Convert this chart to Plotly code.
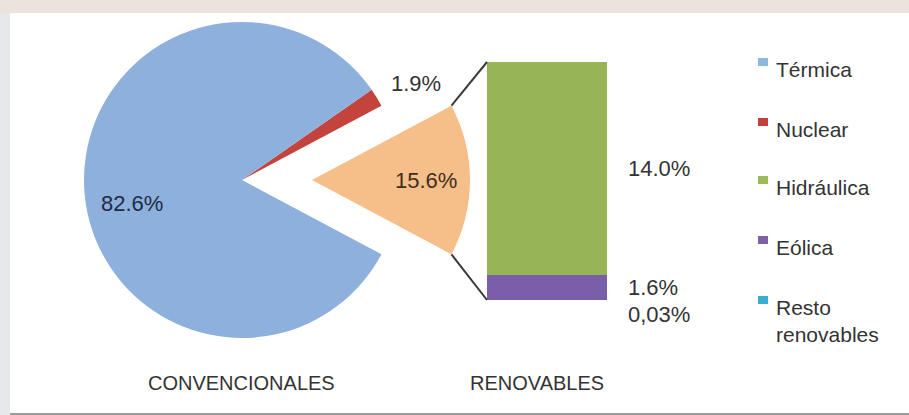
import math
import plotly.graph_objects as go

W, H = 909, 415

# ---------------- data ----------------
conv_labels = ["Renovables", "Nuclear", "Térmica"]
conv_values = [15.6, 1.9, 82.6]
conv_text = ["15.6%", "1.9%", "82.6%"]

renov_labels = ["Resto renovables", "Eólica", "Hidráulica"]
renov_values = [0.03, 1.6, 14.0]
renov_text = ["0,03%", "1.6%", "14.0%"]

legend_labels = ["Térmica", "Nuclear", "Hidráulica", "Eólica", "Resto<br>renovables"]
group_labels = ["CONVENCIONALES", "RENOVABLES"]

# ---------------- style ----------------
C_TERM = "#8db0dc"
C_NUC = "#c4443d"
C_REN = "#f6be88"
C_HID = "#97b556"
C_EOL = "#7b5ea9"
C_RES = "#36abcd"
legend_colors = ["#8fb8e0", "#c4403d", "#9dbb5a", "#7d60a8", "#3aaed0"]
TXT = "#333333"
FONT = "Liberation Sans, Arial, sans-serif"

cx, cy, R = 242, 180, 158       # pie centre / radius (px)
explode = 70                     # offset of the renewable slice (px)
bar_x0, bar_x1 = 487, 607        # bar horizontal extent (px)
bar_top, bar_bot = 62, 300       # bar vertical extent (px)


def px(x):
    return x / W


def py(y):
    return 1 - y / H


total = sum(conv_values)
half_ren = conv_values[0] / total * 360 / 2
# plotly: counterclockwise pies put the first slice between rotation and rotation+span (clockwise from 12 o'clock)
rotation = 90 - half_ren

fig = go.Figure()

dom = dict(x=[px(cx - R), px(cx + R)], y=[py(cy + R), py(cy - R)])
dom2 = dict(x=[px(cx + explode - R), px(cx + explode + R)], y=[py(cy + R), py(cy - R)])

fig.add_trace(go.Pie(
    labels=conv_labels, values=conv_values, sort=False, direction="counterclockwise",
    rotation=rotation, domain=dom, textinfo="none", hoverinfo="skip",
    marker=dict(colors=["rgba(0,0,0,0)", C_NUC, C_TERM], line=dict(width=0)),
    showlegend=False,
))
fig.add_trace(go.Pie(
    labels=conv_labels, values=conv_values, sort=False, direction="counterclockwise",
    rotation=rotation, domain=dom2, textinfo="none", hoverinfo="skip",
    marker=dict(colors=[C_REN, "rgba(0,0,0,0)", "rgba(0,0,0,0)"], line=dict(width=0)),
    showlegend=False,
))

bar_colors = [C_RES, C_EOL, C_HID]
for lab, val, col in zip(renov_labels, renov_values, bar_colors):
    fig.add_trace(go.Bar(
        x=[0], y=[val], name=lab, width=1, marker=dict(color=col, line=dict(width=0)),
        showlegend=False, hoverinfo="skip",
    ))

rtotal = sum(renov_values)

annotations = []
shapes = []

# background panel
shapes.append(dict(type="rect", xref="paper", yref="paper", x0=px(10), x1=1, y0=py(413), y1=py(13),
                   fillcolor="white", line=dict(width=0), layer="below"))
shapes.append(dict(type="rect", xref="paper", yref="paper", x0=0, x1=px(10), y0=0, y1=py(13),
                   fillcolor="#e6e8ec", line=dict(width=0), layer="below"))
shapes.append(dict(type="rect", xref="paper", yref="paper", x0=px(10), x1=1, y0=0, y1=py(413),
                   fillcolor="#9a9a9a", line=dict(width=0), layer="below"))


# pie labels (positions from slice geometry)
def polar(cxx, ang_deg, rr):
    a = math.radians(ang_deg)
    return cxx + rr * math.cos(a), cy - rr * math.sin(a)


start = -half_ren
angles = []
for v in conv_values:
    span = v / total * 360
    angles.append(start + span / 2)
    start += span

pos = [polar(cx + explode, angles[0], 0.72 * R),
       polar(cx, angles[1] - 2.5, 1.26 * R),
       polar(cx, angles[2] + 8.5, 0.71 * R)]
txt_colors = ["#3d2f22", TXT, "#1f2b45"]
for t, (x, y), c in zip(conv_text, pos, txt_colors):
    annotations.append(dict(x=px(x), y=py(y), xref="paper", yref="paper", text=t, showarrow=False,
                            font=dict(size=22, color=c, family=FONT), xanchor="center", yanchor="middle"))

# bar labels
cum = 0
for i, (t, v) in enumerate(zip(renov_text, renov_values)):
    mid = cum + v / 2
    cum += v
    ysh = -14 if i == 0 else 0
    annotations.append(dict(x=0.5, y=(0 if i == 0 else mid), xref="x", yref="y", text=t, showarrow=False,
                            xanchor="left", yanchor="middle", xshift=19, yshift=ysh,
                            font=dict(size=22, color=TXT, family=FONT)))

# connector lines
c_top = polar(cx + explode, half_ren, R)
c_bot = polar(cx + explode, -half_ren, R)
for (x0, y0), (x1, y1) in [(c_top, (bar_x0, bar_top)), (c_bot, (bar_x0, bar_bot))]:
    shapes.append(dict(type="line", xref="paper", yref="paper", x0=px(x0), y0=py(y0), x1=px(x1), y1=py(y1),
                       line=dict(color="#3a3a3a", width=2)))

# legend
leg_y = [67, 127, 185, 245, 305]
for lab, col, yc in zip(legend_labels, legend_colors, leg_y):
    shapes.append(dict(type="rect", xref="paper", yref="paper", x0=px(758), x1=px(768),
                       y0=py(yc - 1), y1=py(yc - 9), fillcolor=col, line=dict(width=0)))
    annotations.append(dict(x=px(774), y=py(yc - 11), xref="paper", yref="paper", text=lab, showarrow=False,
                            xanchor="left", yanchor="top", align="left",
                            font=dict(size=21, color=TXT, family=FONT)))

# group labels
for lab, xc in zip(group_labels, [241, 537]):
    annotations.append(dict(x=px(xc), y=py(383), xref="paper", yref="paper", text=lab, showarrow=False,
                            xanchor="center", yanchor="middle", font=dict(size=20, color=TXT, family=FONT)))

fig.update_layout(
    width=W, height=H, margin=dict(l=0, r=0, t=0, b=0),
    paper_bgcolor="#ede3de", plot_bgcolor="rgba(0,0,0,0)",
    barmode="stack", bargap=0,
    xaxis=dict(domain=[px(bar_x0), px(bar_x1)], range=[-0.5, 0.5], visible=False, fixedrange=True),
    yaxis=dict(domain=[py(bar_bot), py(bar_top)], range=[0, rtotal], visible=False, fixedrange=True),
    shapes=shapes, annotations=annotations, showlegend=False,
)

fig.write_html("out.html", config={"displayModeBar": False})
